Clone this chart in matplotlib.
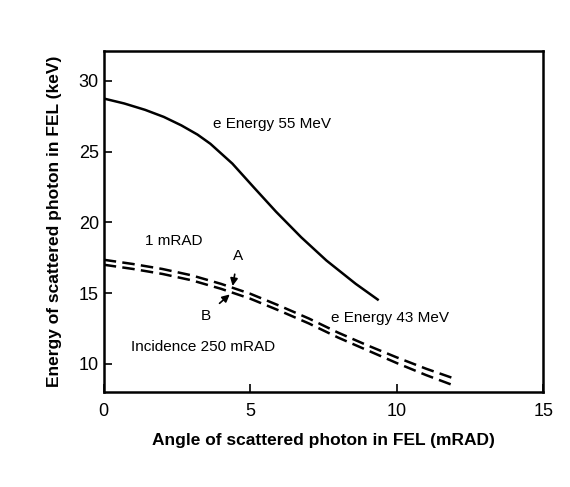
import numpy as np
from matplotlib import pyplot as plt

# curve
angle_55 = [0, 0.7, 1.41, 2.05, 2.65, 3.2, 3.64, 4.39, 5.13, 5.88, 6.74, 7.6, 8.6, 9.35]
energy_55 = [28.75, 28.4, 27.95, 27.45, 26.85, 26.2, 25.55, 24.15, 22.45, 20.75, 18.94, 17.3, 15.65, 14.54]

angle_43 = [0, 1, 2, 3, 4, 5, 6, 7, 8, 9, 10, 11, 11.9]
energy_43_a = [17.35, 17.05, 16.7, 16.25, 15.65, 14.95, 14.1, 13.2, 12.2, 11.3, 10.45, 9.65, 9.0]
energy_43_b = [17.0, 16.7, 16.35, 15.9, 15.3, 14.6, 13.75, 12.85, 11.85, 10.95, 10.05, 9.2, 8.5]

x_ticks = [0, 5, 10, 15]
y_ticks = [10, 15, 20, 25, 30]

plt.rcParams['font.family'] = ['Liberation Sans', 'DejaVu Sans']

fig = plt.figure(figsize=(5.7, 4.87), dpi=100)
ax = fig.add_axes([0.182, 0.195, 0.771, 0.70])

ax.plot(angle_55, energy_55, color='black', lw=1.8)
ax.plot(angle_43, energy_43_a, color='black', lw=1.8, dashes=(5, 2.5))
ax.plot(angle_43, energy_43_b, color='black', lw=1.8, dashes=(5, 2.5))

ax.set_xlim(0, 15)
ax.set_ylim(8, 32.1)
ax.set_xticks(x_ticks)
ax.set_yticks(y_ticks)
ax.tick_params(direction='in', length=6, width=1.2, labelsize=13)
ax.tick_params(axis='x', pad=8)
for s in ax.spines.values():
    s.set_linewidth(1.8)

ax.text(3.72, 26.96, 'e Energy 55 MeV', fontsize=11, va='center')
ax.text(1.41, 18.7, '1 mRAD', fontsize=11, va='center')
ax.text(7.75, 13.2, 'e Energy 43 MeV', fontsize=11, va='center')
ax.text(0.92, 11.18, 'Incidence 250 mRAD', fontsize=11, va='center')

ax.annotate('A', xy=(4.4, 15.5), xytext=(4.58, 17.6), fontsize=11, ha='center', va='center',
            arrowprops=dict(arrowstyle='-|>', color='black', lw=1.2, shrinkA=6, shrinkB=0))
ax.annotate('B', xy=(4.3, 14.9), xytext=(3.47, 13.4), fontsize=11, ha='center', va='center',
            arrowprops=dict(arrowstyle='-|>', color='black', lw=1.2, shrinkA=6, shrinkB=0))

ax.set_xlabel('Angle of scattered photon in FEL (mRAD)', fontsize=12.5, fontweight='bold', labelpad=9)
ax.set_ylabel('Energy of scattered photon in FEL (keV)', fontsize=12.5, fontweight='bold', labelpad=12)

fig.savefig('out.png', dpi=100)
